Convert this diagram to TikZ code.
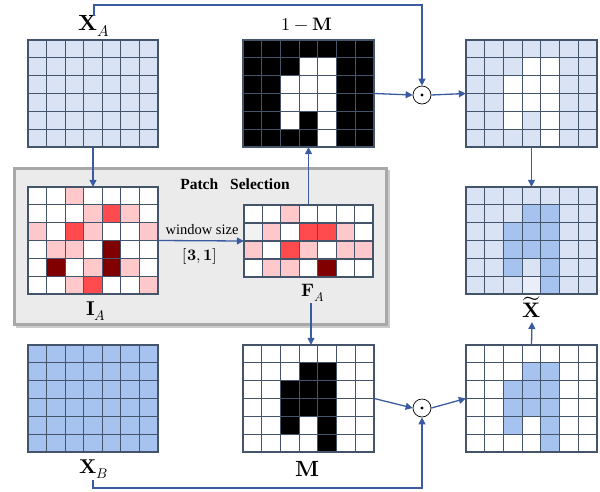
\documentclass[tikz,border=0pt]{standalone}
\usepackage{fontspec}
\usepackage{unicode-math}
\setmainfont{Liberation Serif}
\setmathfont{Latin Modern Math}
\usetikzlibrary{arrows.meta}
\definecolor{cW}{HTML}{FFFFFF}
\definecolor{cL}{HTML}{DAE3F3}
\definecolor{cB}{HTML}{A6C3F0}
\definecolor{cE}{HTML}{E9EEF8}
\definecolor{cK}{HTML}{000000}
\definecolor{cP}{HTML}{FFC8CB}
\definecolor{cR}{HTML}{FF4B4E}
\definecolor{cD}{HTML}{800000}
\definecolor{cG}{HTML}{F2F2F2}
\definecolor{gridcol}{HTML}{44546A}
\definecolor{lineblue}{HTML}{3A5BA0}
\definecolor{boxfill}{HTML}{EBEBEB}
\definecolor{boxline}{HTML}{A8A8A8}
\newcommand{\mygrid}[5]{%
  \foreach \rowlist [count=\ri from 0] in {#5} {
    \foreach \cc [count=\ci from 0] in \rowlist {
      \draw[gridline, fill=c\cc] ({#1+\ci*#3},{#2+\ri*#4}) rectangle ++(#3,#4);
    }
  }
}
\tikzset{
  gridline/.style={draw=gridcol, line width=1.2pt},
  conn/.style={draw=lineblue, line width=1.3pt},
  arr/.style={conn, -{Triangle[length=7pt,width=7pt]}},
  anchorbox/.style={inner sep=0pt, draw=none},
  lab/.style={inner sep=0pt},
  odot/.style={circle, draw=black, line width=0.7pt, minimum size=18pt, inner sep=0pt, fill=white},
}
\begin{document}
\begin{tikzpicture}[x=1pt,y=-1pt]
\useasboundingbox (0,0) rectangle (600,491);
% patch selection box
\draw[draw=boxline!60, line width=2pt] (16.5,170.5) rectangle (388.5,326.5);
\draw[draw=boxline, fill=boxfill, line width=3pt] (14.5,168.5) rectangle (386.5,324.5);
\node[lab, font=\bfseries\fontsize{15.5}{18}\selectfont] (ps) at (235,184) {Patch\hspace{12pt}Selection};

% grids
\mygrid{28}{40}{18.57}{17.83}{{L,L,L,L,L,L,L},{L,L,L,L,L,L,L},{L,L,L,L,L,L,L},{L,L,L,L,L,L,L},{L,L,L,L,L,L,L},{L,L,L,L,L,L,L}}
\node[anchorbox, minimum width=130pt, minimum height=107pt] (xa) at (93,93.5) {};

\mygrid{243}{40}{18.71}{17.83}{{K,K,K,K,K,K,K},{K,K,K,W,W,K,K},{K,K,W,W,W,K,K},{K,K,W,W,W,K,K},{K,K,W,K,W,K,K},{K,K,K,K,W,K,K}}
\node[anchorbox, minimum width=131pt, minimum height=107pt] (onem) at (308.5,93.5) {};

\mygrid{466}{40}{18.71}{17.83}{{L,L,L,L,L,L,L},{L,L,L,W,W,L,L},{L,L,W,W,W,L,L},{L,L,W,W,W,L,L},{L,L,W,L,W,L,L},{L,L,L,L,W,L,L}}
\node[anchorbox, minimum width=131pt, minimum height=107pt] (tr) at (531.5,93.5) {};

\mygrid{28}{187}{18.57}{17.83}{{W,W,P,W,W,W,W},{W,W,W,P,R,P,W},{P,W,R,P,W,W,P},{W,P,P,W,D,W,W},{W,D,W,P,D,P,W},{W,W,P,R,W,W,P}}
\node[anchorbox, minimum width=130pt, minimum height=107pt] (ia) at (93,240.5) {};

\mygrid{244}{205}{18.43}{18}{{W,W,P,W,W,W,W},{G,P,W,R,R,P,W},{P,W,R,P,W,P,P},{W,P,P,W,D,W,W}}
\node[anchorbox, minimum width=129pt, minimum height=72pt] (fa) at (308.5,241) {};

\mygrid{466}{187}{18.71}{17.83}{{L,L,L,L,L,L,L},{L,L,L,B,B,L,L},{L,L,B,B,B,L,L},{L,L,B,B,B,L,L},{L,L,B,L,B,L,L},{L,L,L,E,B,L,L}}
\node[anchorbox, minimum width=131pt, minimum height=107pt] (mr) at (531.5,240.5) {};

\mygrid{28}{345}{18.57}{17.83}{{B,B,B,B,B,B,B},{B,B,B,B,B,B,B},{B,B,B,B,B,B,B},{B,B,B,B,B,B,B},{B,B,B,B,B,B,B},{B,B,B,B,B,B,B}}
\node[anchorbox, minimum width=130pt, minimum height=107pt] (xb) at (93,398.5) {};

\mygrid{243}{345}{18.71}{17.83}{{W,W,W,W,W,W,W},{W,W,W,K,K,W,W},{W,W,K,K,K,W,W},{W,W,K,K,K,W,W},{W,W,K,W,K,W,W},{W,W,W,W,K,W,W}}
\node[anchorbox, minimum width=131pt, minimum height=107pt] (m) at (308.5,398.5) {};

\mygrid{466}{345}{18.71}{17.83}{{W,W,W,W,W,W,W},{W,W,W,B,B,W,W},{W,W,B,B,B,W,W},{W,W,B,B,B,W,W},{W,W,B,W,B,W,W},{W,W,W,W,B,W,W}}
\node[anchorbox, minimum width=131pt, minimum height=107pt] (br) at (531.5,398.5) {};

% labels
\node[lab, font=\fontsize{22}{26}\selectfont] (xal) at (94,26) {$\symbf{X}_A$};
\node[lab, font=\fontsize{18}{22}\selectfont] (onel) at (307,24) {$1-\symbf{M}$};
\node[lab, font=\fontsize{20}{24}\selectfont] (ial) at (96,311) {$\symbf{I}_A$};
\node[lab, font=\fontsize{18}{22}\selectfont] (fal) at (313,293) {$\symbf{F}_A$};
\node[lab, font=\fontsize{21}{24}\selectfont] (xtl) at (532,307) {$\widetilde{\symbf{X}}$};
\node[lab, font=\fontsize{20}{24}\selectfont] (xbl) at (94,469) {$\symbf{X}_B$};
\node[lab, font=\fontsize{22}{26}\selectfont] (ml) at (308,469) {$\symbf{M}$};
\node[lab, font=\fontsize{14.5}{17}\selectfont] (ws) at (202,230) {window size};
\node[lab, font=\fontsize{16}{19}\selectfont] (wv) at (200,256) {$[\symbf{3},\symbf{1}]$};

% odot operators
\node[odot] (od1) at (422,95) {};
\fill (od1.center) circle (1.6pt);
\node[odot] (od2) at (422,408) {};
\fill (od2.center) circle (1.6pt);

\coordinate (topturn) at (422,5);
\coordinate (botturn) at (422,488);
\coordinate (xtlfoot) at (532,322);
\coordinate (falfoot) at (311,303);
\coordinate (xbfoot) at (93,480);

% connectors
\draw[arr] (xal.north) |- (topturn) -- (od1.north);
\draw[arr] (xa.south) -- (ia.north);
\draw[arr] (ia.east) -- (fa.west);
\draw[arr] (fa.north) -- (onem.south);
\draw[arr] (onem.east) -- (od1.west);
\draw[arr] (od1.east) -- (tr.west);
\draw[arr] (tr.south) -- (mr.north);
\draw[arr] (falfoot) -- (falfoot |- m.north);
\draw[arr] (m.east) -- (od2.west);
\draw[arr] (xbfoot) |- (botturn) -- (od2.south);
\draw[arr] (od2.east) -- (br.west);
\draw[arr] (br.north) -- (xtlfoot);
\end{tikzpicture}
\end{document}
